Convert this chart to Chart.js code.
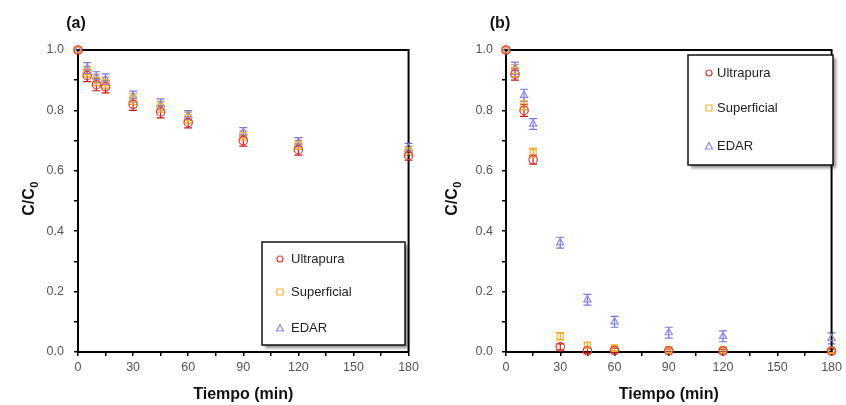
<!DOCTYPE html>
<html>
<head>
<meta charset="utf-8">
<script src="https://cdn.jsdelivr.net/npm/chart.js@4.4.1/dist/chart.umd.min.js"></script>
<style>
  html, body { margin: 0; padding: 0; background: #ffffff; }
  #wrap { position: relative; width: 846px; height: 405px; overflow: hidden; }
  .panel { position: absolute; top: 0; width: 423px; height: 405px; }
</style>
</head>
<body>
<div id="wrap">
  <div class="panel" style="left:0px"><canvas id="ca" width="423" height="405"></canvas></div>
  <div class="panel" style="left:423px"><canvas id="cb" width="423" height="405"></canvas></div>
</div>
<script>
// ---------- DATA ----------
const times = [0, 5, 10, 15, 30, 45, 60, 90, 120, 180];
const seriesNames = ['Ultrapura', 'Superficial', 'EDAR'];
const panelLabels = ['(a)', '(b)'];
const xTitle = 'Tiempo (min)';
const yTitleMain = 'C/C';
const yTitleSub = '0';

// Panel (a)
const aUltrapura   = [1.000, 0.915, 0.885, 0.878, 0.820, 0.795, 0.760, 0.700, 0.670, 0.650];
const aSuperficial = [1.000, 0.928, 0.900, 0.892, 0.838, 0.812, 0.776, 0.717, 0.686, 0.666];
const aEdar        = [1.000, 0.940, 0.910, 0.903, 0.846, 0.820, 0.784, 0.728, 0.695, 0.676];
const aUltrapuraErr   = [0, 0.020, 0.020, 0.020, 0.020, 0.020, 0.018, 0.018, 0.018, 0.015];
const aSuperficialErr = [0, 0.018, 0.018, 0.018, 0.018, 0.018, 0.018, 0.015, 0.015, 0.015];
const aEdarErr        = [0, 0.018, 0.018, 0.018, 0.018, 0.018, 0.015, 0.015, 0.015, 0.015];

// Panel (b)
const bUltrapura   = [1.000, 0.920, 0.800, 0.637, 0.017, 0.004, 0.005, 0.004, 0.003, 0.003];
const bSuperficial = [1.000, 0.932, 0.822, 0.660, 0.052, 0.022, 0.013, 0.007, 0.007, 0.005];
const bEdar        = [1.000, 0.940, 0.850, 0.755, 0.362, 0.173, 0.100, 0.064, 0.052, 0.045];
const bUltrapuraErr   = [0, 0.020, 0.020, 0.015, 0.010, 0.008, 0.008, 0.006, 0.006, 0.006];
const bSuperficialErr = [0, 0.020, 0.020, 0.015, 0.012, 0.010, 0.010, 0.008, 0.008, 0.008];
const bEdarErr        = [0, 0.020, 0.020, 0.018, 0.018, 0.018, 0.018, 0.018, 0.018, 0.018];

// ---------- STYLE ----------
const colors = ['#e03a3a', '#f2b233', '#8c8ce6'];
const errColors = ['#c41a1a', '#eda020', '#7878dd'];
const shapes = ['circle', 'rect', 'triangle'];
const FONT = "'Liberation Sans', Arial, sans-serif";

function makeDatasets(values, errs) {
  return values.map((vals, i) => ({
    label: seriesNames[i],
    data: times.map((t, j) => ({ x: t, y: vals[j] })),
    errors: errs[i],
    errColor: errColors[i],
    showLine: false,
    pointStyle: shapes[i],
    pointRadius: 4.2,
    pointBorderWidth: 1.2,
    borderColor: colors[i],
    backgroundColor: 'rgba(255,255,255,0)',
    pointBackgroundColor: 'rgba(255,255,255,0)',
    clip: false
  }));
}

const errorBarPlugin = {
  id: 'errorBars',
  beforeDatasetsDraw(chart) {
    const ctx = chart.ctx, xs = chart.scales.x, ys = chart.scales.y;
    chart.data.datasets.forEach(ds => {
      ctx.save();
      ctx.strokeStyle = ds.errColor;
      ctx.lineWidth = 1.2;
      ds.data.forEach((p, j) => {
        const e = ds.errors[j];
        if (!e) return;
        const px = xs.getPixelForValue(p.x);
        const y1 = ys.getPixelForValue(p.y - e);
        const y2 = ys.getPixelForValue(p.y + e);
        ctx.beginPath();
        ctx.moveTo(px, y1); ctx.lineTo(px, y2);
        ctx.moveTo(px - 4, y1); ctx.lineTo(px + 4, y1);
        ctx.moveTo(px - 4, y2); ctx.lineTo(px + 4, y2);
        ctx.stroke();
      });
      ctx.restore();
    });
  }
};

function decorPlugin(opts) {
  return {
    id: 'decor',
    beforeDatasetsDraw(chart) {
      const ctx = chart.ctx, a = chart.chartArea;
      ctx.save();
      // frame top & right
      ctx.strokeStyle = '#000';
      ctx.lineWidth = 2;
      ctx.beginPath();
      ctx.moveTo(a.left, a.top); ctx.lineTo(a.right, a.top); ctx.lineTo(a.right, a.bottom);
      ctx.stroke();
      // legend box with shadow
      const L = opts.legend;
      ctx.save();
      ctx.shadowColor = 'rgba(0,0,0,0.45)';
      ctx.shadowOffsetX = 3; ctx.shadowOffsetY = 3; ctx.shadowBlur = 3;
      ctx.fillStyle = '#fff';
      ctx.fillRect(L.x, L.y, L.w, L.h);
      ctx.restore();
      ctx.strokeStyle = '#111';
      ctx.lineWidth = 1.5;
      ctx.strokeRect(L.x, L.y, L.w, L.h);
      ctx.restore();
    },
    afterDatasetsDraw(chart) {
      const ctx = chart.ctx, a = chart.chartArea;
      const L = opts.legend;
      ctx.save();
      // legend entries
      chart.data.datasets.forEach((ds, i) => {
        const cy = L.rows[i];
        ctx.strokeStyle = ds.borderColor;
        ctx.lineWidth = 1.2;
        ctx.beginPath();
        if (ds.pointStyle === 'circle') {
          ctx.arc(L.mx, cy, 3, 0, Math.PI * 2);
        } else if (ds.pointStyle === 'rect') {
          ctx.rect(L.mx - 3, cy - 3, 6, 6);
        } else {
          ctx.moveTo(L.mx, cy - 3.5); ctx.lineTo(L.mx + 3.5, cy + 3); ctx.lineTo(L.mx - 3.5, cy + 3); ctx.closePath();
        }
        ctx.stroke();
        ctx.fillStyle = '#222';
        ctx.font = '13px ' + FONT;
        ctx.textAlign = 'left';
        ctx.textBaseline = 'middle';
        ctx.fillText(ds.label, L.tx, cy);
      });
      // panel label
      ctx.fillStyle = '#111';
      ctx.font = 'bold 16px ' + FONT;
      ctx.textAlign = 'center';
      ctx.textBaseline = 'middle';
      ctx.fillText(opts.label, opts.labelX, 24);
      // y-axis title with subscript
      ctx.save();
      const cy = (a.top + a.bottom) / 2 - 2;
      ctx.translate(opts.yTitleX, cy);
      ctx.rotate(-Math.PI / 2);
      ctx.font = 'bold 16px ' + FONT;
      const wMain = ctx.measureText(yTitleMain).width;
      ctx.font = 'bold 11px ' + FONT;
      const wSub = ctx.measureText(yTitleSub).width;
      const x0 = -(wMain + wSub) / 2;
      ctx.textAlign = 'left';
      ctx.textBaseline = 'alphabetic';
      ctx.fillStyle = '#111';
      ctx.font = 'bold 16px ' + FONT;
      ctx.fillText(yTitleMain, x0, 6);
      ctx.font = 'bold 11px ' + FONT;
      ctx.fillText(yTitleSub, x0 + wMain + 0.5, 10);
      ctx.restore();
      ctx.restore();
    }
  };
}

function makeChart(canvasId, values, errs, o) {
  return new Chart(document.getElementById(canvasId), {
    type: 'scatter',
    data: { datasets: makeDatasets(values, errs) },
    options: {
      responsive: false,
      animation: false,
      layout: { padding: { left: 0, right: o.padRight, top: 50, bottom: 0 } },
      plugins: { legend: { display: false }, tooltip: { enabled: false } },
      scales: {
        x: {
          type: 'linear', min: 0, max: 180,
          afterFit: s => { s.height = 53; },
          ticks: {
            stepSize: 15, autoSkip: false, maxRotation: 0, padding: 4,
            color: '#555', font: { family: FONT, size: 12.5 },
            callback: v => (v % 30 === 0 ? String(v) : '')
          },
          grid: { drawOnChartArea: false, drawTicks: true, tickLength: 4, color: '#000', lineWidth: 1.5 },
          border: { display: true, color: '#000', width: 2 },
          title: { display: true, text: xTitle, color: '#111', font: { family: FONT, size: 16, weight: 'bold' }, padding: { top: 0, bottom: 1 } }
        },
        y: {
          type: 'linear', min: 0, max: 1,
          afterFit: s => { s.width = o.yWidth; },
          ticks: {
            stepSize: 0.1, autoSkip: false, padding: o.tickPad,
            color: '#555', font: { family: FONT, size: 12.5 },
            callback: v => (Math.round(v * 10) % 2 === 0 ? v.toFixed(1) : '')
          },
          grid: { drawOnChartArea: false, drawTicks: true, tickLength: 4, color: '#000', lineWidth: 1.5 },
          border: { display: true, color: '#000', width: 2 },
          title: { display: false }
        }
      }
    },
    plugins: [errorBarPlugin, decorPlugin(o)]
  });
}

makeChart('ca', [aUltrapura, aSuperficial, aEdar], [aUltrapuraErr, aSuperficialErr, aEdarErr], {
  padRight: 12, yWidth: 78, tickPad: 10,
  label: panelLabels[0], labelX: 76, yTitleX: 28,
  legend: { x: 262, y: 242, w: 143, h: 103, rows: [259, 292, 328], mx: 280, tx: 291 }
});

makeChart('cb', [bUltrapura, bSuperficial, bEdar], [bUltrapuraErr, bSuperficialErr, bEdarErr], {
  padRight: 8, yWidth: 83, tickPad: 9,
  label: panelLabels[1], labelX: 77, yTitleX: 28,
  legend: { x: 265, y: 55, w: 145, h: 110, rows: [73, 108, 146], mx: 286, tx: 294 }
});
</script>
</body>
</html>
